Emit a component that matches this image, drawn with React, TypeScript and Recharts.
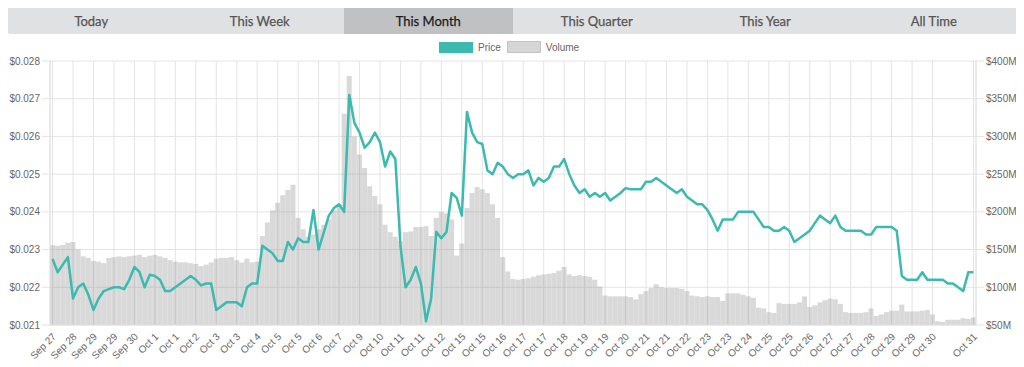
import React from 'react';
import { ComposedChart, Bar, Line, XAxis, YAxis, CartesianGrid } from 'recharts';

const tabs = ['Today', 'This Week', 'This Month', 'This Quarter', 'This Year', 'All Time'];
const activeTab = 'This Month';

const tickLabels = [
	'Sep 27', 'Sep 28', 'Sep 29', 'Sep 29', 'Sep 30', 'Oct 1', 'Oct 1', 'Oct 2', 'Oct 3', 'Oct 3',
	'Oct 4', 'Oct 5', 'Oct 5', 'Oct 6', 'Oct 7', 'Oct 9', 'Oct 10', 'Oct 11', 'Oct 11', 'Oct 12',
	'Oct 15', 'Oct 15', 'Oct 16', 'Oct 17', 'Oct 17', 'Oct 18', 'Oct 19', 'Oct 19', 'Oct 20', 'Oct 21',
	'Oct 21', 'Oct 22', 'Oct 23', 'Oct 23', 'Oct 24', 'Oct 25', 'Oct 25', 'Oct 26', 'Oct 27', 'Oct 27',
	'Oct 28', 'Oct 29', 'Oct 29', 'Oct 30', 'Oct 31',
];

// price in USD, 4 samples per label step
const price = [
	0.02275, 0.0224, 0.0226, 0.0228, 0.0217, 0.022, 0.0221, 0.0218, 0.0214, 0.0217,
	0.0219, 0.02195, 0.022, 0.022, 0.02195, 0.0222, 0.02254, 0.0224, 0.022, 0.02233,
	0.0223, 0.0222, 0.0219, 0.0219, 0.022, 0.0221, 0.0222, 0.0223, 0.0222, 0.02205,
	0.0221, 0.0221, 0.0214, 0.0215, 0.0216, 0.0216, 0.0216, 0.0215, 0.022, 0.0221,
	0.0221, 0.0231, 0.023, 0.0229, 0.0227, 0.0227, 0.0232, 0.023, 0.0233, 0.0232,
	0.0232, 0.02405, 0.023, 0.02345, 0.0239, 0.0241, 0.0242, 0.024, 0.0271, 0.02636,
	0.0261, 0.0257, 0.02585, 0.0261, 0.02585, 0.0252, 0.0256, 0.0254, 0.0231, 0.022,
	0.0222, 0.02254, 0.0221, 0.0211, 0.0217, 0.02347, 0.0233, 0.02347, 0.0245, 0.02437,
	0.0239, 0.02665, 0.0261, 0.02585, 0.0258, 0.0251, 0.025, 0.0253, 0.0252, 0.025,
	0.0249, 0.025, 0.025, 0.0251, 0.0247, 0.0249, 0.0248, 0.0249, 0.0252, 0.0252,
	0.0254, 0.025, 0.0247, 0.0245, 0.0246, 0.0244, 0.0245, 0.0244, 0.0245, 0.0243,
	0.0244, 0.0245, 0.02463, 0.0246, 0.0246, 0.0246, 0.0248, 0.0248, 0.0249, 0.0248,
	0.0247, 0.0246, 0.0245, 0.0246, 0.0244, 0.0243, 0.0242, 0.0242, 0.02405, 0.0238,
	0.0235, 0.0238, 0.0238, 0.0238, 0.024, 0.024, 0.024, 0.024, 0.0238, 0.0236,
	0.0236, 0.0235, 0.0235, 0.0236, 0.0235, 0.0232, 0.0233, 0.0234, 0.0235, 0.0237,
	0.0239, 0.0238, 0.0237, 0.0239, 0.0236, 0.0235, 0.0235, 0.0235, 0.0235, 0.0234,
	0.0234, 0.0236, 0.0236, 0.0236, 0.0236, 0.0235, 0.0223, 0.0222, 0.0222, 0.0222,
	0.0224, 0.0222, 0.0222, 0.0222, 0.0222, 0.0221, 0.0221, 0.022, 0.0219, 0.0224,
	0.0224,
];

// volume in $M
const volume = [
	156, 155, 156, 159, 160, 150, 141, 139, 135, 134,
	132, 139, 140, 141, 140, 141, 142, 143, 140, 142,
	143, 141, 139, 136, 134, 133, 133, 132, 131, 128,
	130, 133, 138, 139, 139, 140, 136, 133, 138, 133,
	134, 168, 186, 202, 212, 222, 229, 236, 192, 177,
	167, 170, 177, 183, 190, 202, 210, 330, 380, 300,
	276, 258, 234, 221, 210, 183, 173, 167, 161, 173,
	174, 180, 180, 181, 168, 192, 200, 198, 190, 142,
	158, 205, 225, 233, 230, 225, 210, 192, 140, 121,
	111, 110, 111, 112, 114, 116, 117, 118, 119, 122,
	127, 117, 115, 116, 115, 114, 110, 101, 89, 88,
	88, 88, 88, 87, 84, 91, 95, 99, 104, 100,
	99, 99, 99, 98, 95, 89, 88, 87, 88, 87,
	87, 82, 92, 92, 92, 90, 88, 86, 73, 72,
	67, 66, 79, 78, 78, 78, 80, 88, 74, 76,
	80, 83, 85, 84, 78, 67, 66, 66, 66, 67,
	72, 62, 64, 67, 69, 69, 77, 68, 68, 68,
	69, 70, 64, 55, 54, 57, 57, 57, 59, 58,
	60,
];

const priceTicks = [0.021, 0.022, 0.023, 0.024, 0.025, 0.026, 0.027, 0.028];
const volumeTicks = [50, 100, 150, 200, 250, 300, 350, 400];

const data = price.map((p, i) => ({ i, price: p, volume: volume[i] }));
const tickIndex = tickLabels.map((_, k) => (k === tickLabels.length - 1 ? price.length - 1 : k * 4));
const labelAt: Record<number, string> = {};
tickIndex.forEach((idx, k) => {
	labelAt[idx] = tickLabels[k];
});

const font = '"Liberation Sans", Arial, Helvetica, sans-serif';
const teal = '#3cbab0';
const gridColor = '#e4e4e4';

const DateTick = ({ x, y, payload }: any) => (
	<text
		x={x}
		y={y}
		transform={`rotate(-45 ${x} ${y})`}
		textAnchor='end'
		fontSize={10}
		fontFamily={font}
		fill='#666'
		dy={6}
	>
		{labelAt[payload.value]}
	</text>
);

const App = () => {
	return (
		<div style={{ position: 'relative', width: 1024, height: 367, margin: -8, background: '#fff' }}>
			<div
				style={{
					position: 'absolute',
					left: 7,
					top: 7,
					width: 1011,
					height: 27,
					display: 'flex',
					background: '#e0e1e2',
					borderRadius: 4,
					overflow: 'hidden',
					fontFamily: 'Lato, sans-serif',
					fontSize: 13,
					fontWeight: 400,
				}}
			>
				{tabs.map((t) => (
					<div
						key={t}
						style={{
							flex: 1,
							display: 'flex',
							alignItems: 'center',
							justifyContent: 'center',
							background: t === activeTab ? '#c0c1c2' : 'transparent',
							color: t === activeTab ? '#1b1b1b' : '#555',
							WebkitTextStroke: '0.25px currentColor',
						}}
					>
						{t}
					</div>
				))}
			</div>
			<div style={{ position: 'absolute', top: 41, left: 439, height: 12, display: 'flex', alignItems: 'center', fontFamily: font, fontSize: 10, color: '#666' }}>
				<span style={{ width: 34, height: 11, background: teal, display: 'inline-block' }} />
				<span style={{ marginLeft: 5 }}>Price</span>
				<span style={{ width: 32, height: 10, background: '#d6d6d6', border: '1px solid #c4c4c4', display: 'inline-block', marginLeft: 6 }} />
				<span style={{ marginLeft: 5 }}>Volume</span>
			</div>
			<div style={{ position: 'absolute', left: 0, top: 0 }}>
				<ComposedChart width={1024} height={367} data={data} margin={{ top: 61, right: 0, bottom: 0, left: 0 }} barCategoryGap={0}>
					<CartesianGrid stroke={gridColor} yAxisId='price' />
					<XAxis
						dataKey='i'
						ticks={tickIndex}
						interval={0}
						height={42}
						tickLine={false}
						axisLine={{ stroke: gridColor }}
						tick={<DateTick />}
					/>
					<YAxis
						yAxisId='price'
						orientation='left'
						width={50}
						domain={[0.021, 0.028]}
						ticks={priceTicks}
						tickFormatter={(v: number) => `$${v.toFixed(3)}`}
						tickSize={8}
						tickMargin={2}
						tickLine={{ stroke: gridColor }}
						axisLine={{ stroke: gridColor }}
						tick={{ fontSize: 10, fill: '#666', fontFamily: font }}
					/>
					<YAxis
						yAxisId='volume'
						orientation='right'
						width={48}
						domain={[50, 400]}
						ticks={volumeTicks}
						tickFormatter={(v: number) => `$${v}M`}
						tickSize={8}
						tickMargin={2}
						tickLine={{ stroke: gridColor }}
						axisLine={{ stroke: gridColor }}
						tick={{ fontSize: 10, fill: '#666', fontFamily: font }}
					/>
					<Bar
						yAxisId='volume'
						dataKey='volume'
						fill='rgba(150,150,150,0.36)'
						isAnimationActive={false}
					/>
					<Line
						yAxisId='price'
						dataKey='price'
						type='linear'
						stroke={teal}
						strokeWidth={2.5}
						strokeLinejoin='round'
						dot={false}
						activeDot={false}
						isAnimationActive={false}
					/>
				</ComposedChart>
			</div>
		</div>
	);
};

export default App;
